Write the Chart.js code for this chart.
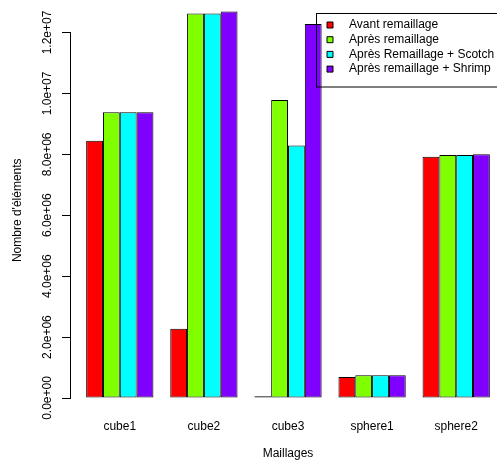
<!DOCTYPE html>
<html>
<head>
<meta charset="utf-8">
<script src="https://cdn.jsdelivr.net/npm/chart.js@4"></script>
<style>
    html, body { margin: 0; padding: 0; background: #fff; overflow: hidden; }
    #wrap { width: 510px; height: 461px; }
</style>
</head>
<body>
<div id="wrap"><canvas id="meshStats" width="510" height="461"></canvas></div>
<script>
// values (number of elements)
const categories = ['cube1', 'cube2', 'cube3', 'sphere1', 'sphere2'];
const seriesNames = ['Avant remaillage', 'Après remaillage', 'Après Remaillage + Scotch', 'Après remaillage + Shrimp'];
const avant = [8.45e6, 2.27e6, 0.06e6, 0.69e6, 7.92e6];
const apres = [9.38e6, 12.62e6, 9.78e6, 0.75e6, 7.98e6];
const scotch = [9.38e6, 12.62e6, 8.29e6, 0.75e6, 7.98e6];
const shrimp = [9.38e6, 12.69e6, 12.28e6, 0.75e6, 8.00e6];
const yTicks = [0, 2e6, 4e6, 6e6, 8e6, 1e7, 1.2e7];
const colors = ['#FF0000', '#80FF00', '#00FFFF', '#8000FF'];

function sci(v) {
    if (v === 0) return '0.0e+00';
    const e = Math.floor(Math.log10(v) + 1e-9);
    const m = v / Math.pow(10, e);
    return m.toFixed(1) + 'e+' + String(e).padStart(2, '0');
}

// R-like placement: categories sit a bit inside the plot region, legend box top right
const rLayout = {
    id: 'rLayout',
    afterLayout(chart) {
        const x = chart.scales.x;
        const pad = (x.right - x.left) * 0.46 / 25.92;
        x.left += pad;
        x.right -= pad;
        x.width = x.right - x.left;
        x.configure();

        const lg = chart.legend;
        lg.left = 324.3;
        lg.top = 16.3;
        lg.right = 510;
        lg.bottom = 461;
    },
    afterDraw(chart) {
        const ctx = chart.ctx;
        ctx.save();
        ctx.strokeStyle = '#000';
        ctx.lineWidth = 1;
        ctx.strokeRect(316.5, 13.5, 300, 73.5);
        ctx.restore();
    }
};

class App {
    constructor() {
        this.cvs = document.getElementById('meshStats');
        this.drawChart(this.cvs);
    }

    drawChart(cvs) {
        Chart.defaults.font.family = '"Liberation Sans", Arial, sans-serif';
        Chart.defaults.font.size = 12;
        Chart.defaults.color = '#000';
        const series = [avant, apres, scotch, shrimp];
        const baseLabels = Chart.defaults.plugins.legend.labels.generateLabels;

        this.chart = new Chart(cvs.getContext('2d'), {
            type: 'bar',
            data: {
                labels: categories,
                datasets: series.map((d, i) => ({
                    label: seriesNames[i],
                    data: d,
                    backgroundColor: colors[i],
                    borderColor: '#000',
                    borderWidth: 1,
                    borderSkipped: false,
                    barPercentage: 1,
                    categoryPercentage: 0.8,
                    clip: false
                }))
            },
            options: {
                responsive: false,
                animation: false,
                layout: { padding: { top: 32.5, right: 4, bottom: 0, left: 0 } },
                plugins: {
                    tooltip: { enabled: false },
                    legend: {
                        position: 'chartArea',
                        align: 'start',
                        labels: {
                            boxWidth: 6,
                            boxHeight: 6,
                            padding: 2.7,
                            color: '#000',
                            font: { size: 12 },
                            generateLabels: (chart) => baseLabels(chart).map(l => Object.assign(l, { text: '   ' + l.text }))
                        }
                    }
                },
                scales: {
                    x: {
                        type: 'category',
                        offset: true,
                        grid: { display: false, drawTicks: false },
                        border: { display: false },
                        ticks: { padding: 21.8, color: '#000', font: { size: 12 }, maxRotation: 0 },
                        title: { display: true, text: 'Maillages', color: '#000', font: { size: 12 }, padding: { top: 0, bottom: 0 } },
                        afterFit: (s) => { s.height = 63; }
                    },
                    y: {
                        min: 0,
                        max: 1.2e7,
                        afterBuildTicks: (s) => { s.ticks = yTicks.map(v => ({ value: v })); },
                        grid: { drawOnChartArea: false, tickLength: 8, color: '#000', tickColor: '#000' },
                        border: { display: true, color: '#000', width: 1 },
                        ticks: {
                            minRotation: 90,
                            maxRotation: 90,
                            crossAlign: 'center',
                            padding: -7.85,
                            color: '#000',
                            font: { size: 12 },
                            callback: (v) => sci(v)
                        },
                        title: { display: true, text: '\u00a0\u00a0\u00a0Nombre d\'éléments', color: '#000', font: { size: 12 }, padding: { top: 10.8, bottom: 0 } },
                        afterFit: (s) => { s.width = 70; }
                    }
                }
            },
            plugins: [rLayout]
        });
    }
}

window.onload = () => {
    new App();
};
</script>
</body>
</html>
